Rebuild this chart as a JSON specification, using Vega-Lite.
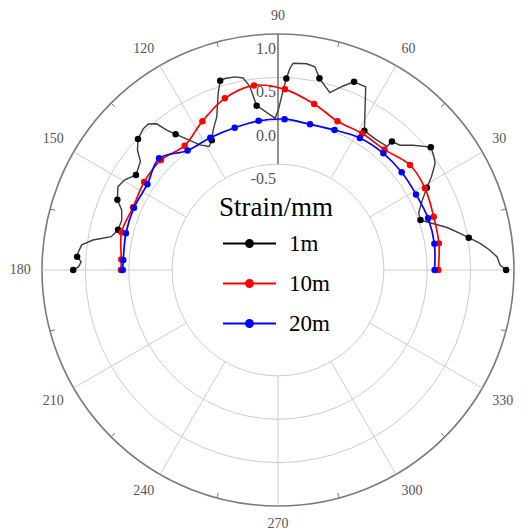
{
  "$schema": "https://vega.github.io/schema/vega-lite/v6.json",
  "width": 525,
  "height": 531,
  "autosize": {"type": "none"},
  "padding": 0,
  "background": "white",
  "config": {"view": {"stroke": null}},
  "datasets": {
    "series": [
      {"s":"1m","a":0,"v":0.91,"m":1},{"s":"1m","a":1.3,"v":0.84,"m":0},{"s":"1m","a":3.4,"v":0.81,"m":0},{"s":"1m","a":5.4,"v":0.73,"m":0},{"s":"1m","a":7.5,"v":0.63,"m":0},
      {"s":"1m","a":9.6,"v":0.51,"m":1},{"s":"1m","a":11.4,"v":0.42,"m":0},{"s":"1m","a":14.1,"v":0.29,"m":0},{"s":"1m","a":16.2,"v":0.17,"m":0},{"s":"1m","a":19.3,"v":0.02,"m":1},
      {"s":"1m","a":22.1,"v":0.03,"m":0},{"s":"1m","a":25.9,"v":0.13,"m":0},{"s":"1m","a":28.9,"v":0.24,"m":1},{"s":"1m","a":31.3,"v":0.35,"m":0},{"s":"1m","a":34.2,"v":0.47,"m":0},
      {"s":"1m","a":36.5,"v":0.51,"m":0},{"s":"1m","a":38.8,"v":0.54,"m":1},{"s":"1m","a":42.7,"v":0.40,"m":0},{"s":"1m","a":45.7,"v":0.29,"m":0},{"s":"1m","a":48.45,"v":0.26,"m":1},
      {"s":"1m","a":48.6,"v":0.18,"m":0},{"s":"1m","a":53.5,"v":0.16,"m":0},{"s":"1m","a":58.2,"v":0.17,"m":1},{"s":"1m","a":64.4,"v":0.62,"m":0},{"s":"1m","a":68.0,"v":0.62,"m":1},
      {"s":"1m","a":70.5,"v":0.53,"m":0},{"s":"1m","a":73.7,"v":0.41,"m":0},{"s":"1m","a":77.8,"v":0.54,"m":1},{"s":"1m","a":79.7,"v":0.66,"m":0},{"s":"1m","a":82.1,"v":0.68,"m":0},
      {"s":"1m","a":85.8,"v":0.67,"m":0},{"s":"1m","a":86.6,"v":0.61,"m":0},{"s":"1m","a":87.5,"v":0.49,"m":1},{"s":"1m","a":88.8,"v":0.28,"m":0},{"s":"1m","a":89.9,"v":0.12,"m":0},
      {"s":"1m","a":91.1,"v":0.03,"m":0},{"s":"1m","a":97.4,"v":0.19,"m":1},{"s":"1m","a":98.7,"v":0.42,"m":0},{"s":"1m","a":100.3,"v":0.53,"m":0},{"s":"1m","a":102.5,"v":0.56,"m":0},
      {"s":"1m","a":105.5,"v":0.57,"m":0},{"s":"1m","a":107.0,"v":0.56,"m":1},{"s":"1m","a":108.7,"v":0.43,"m":0},{"s":"1m","a":111.8,"v":0.18,"m":0},{"s":"1m","a":114.8,"v":0.06,"m":0},
      {"s":"1m","a":117.0,"v":-0.04,"m":1},{"s":"1m","a":119.1,"v":-0.09,"m":0},{"s":"1m","a":122.0,"v":-0.02,"m":0},{"s":"1m","a":127.0,"v":0.24,"m":1},{"s":"1m","a":128.5,"v":0.34,"m":0},
      {"s":"1m","a":129.7,"v":0.47,"m":0},{"s":"1m","a":131.6,"v":0.53,"m":0},{"s":"1m","a":133.6,"v":0.53,"m":0},{"s":"1m","a":136.9,"v":0.49,"m":1},{"s":"1m","a":139.5,"v":0.41,"m":0},
      {"s":"1m","a":141.7,"v":0.30,"m":0},{"s":"1m","a":146.2,"v":0.25,"m":1},{"s":"1m","a":149.5,"v":0.33,"m":0},{"s":"1m","a":152.5,"v":0.36,"m":0},{"s":"1m","a":156.4,"v":0.30,"m":1},
      {"s":"1m","a":159.0,"v":0.21,"m":0},{"s":"1m","a":162.3,"v":0.17,"m":0},{"s":"1m","a":165.9,"v":0.18,"m":1},{"s":"1m","a":168.7,"v":0.24,"m":0},{"s":"1m","a":170.8,"v":0.44,"m":0},
      {"s":"1m","a":172.7,"v":0.56,"m":0},{"s":"1m","a":174.8,"v":0.59,"m":0},{"s":"1m","a":176.2,"v":0.60,"m":1},{"s":"1m","a":177.6,"v":0.55,"m":0},{"s":"1m","a":179.1,"v":0.58,"m":0},
      {"s":"1m","a":180,"v":0.64,"m":1},
      {"s":"10m","a":0,"v":0.128,"m":1},{"s":"10m","a":9.4,"v":0.16,"m":1},{"s":"10m","a":18.9,"v":0.177,"m":1},{"s":"10m","a":29.1,"v":0.219,"m":1},{"s":"10m","a":38.5,"v":0.224,"m":1},
      {"s":"10m","a":48.5,"v":0.133,"m":1},{"s":"10m","a":58.3,"v":0.128,"m":1},{"s":"10m","a":68.2,"v":0.127,"m":1},{"s":"10m","a":77.7,"v":0.238,"m":1},{"s":"10m","a":87.8,"v":0.364,"m":1},
      {"s":"10m","a":97.4,"v":0.425,"m":1},{"s":"10m","a":107.2,"v":0.351,"m":1},{"s":"10m","a":116.9,"v":0.204,"m":1},{"s":"10m","a":126.9,"v":0.072,"m":1},{"s":"10m","a":136.8,"v":0.131,"m":1},
      {"s":"10m","a":146.7,"v":0.126,"m":1},{"s":"10m","a":156.6,"v":0.10,"m":1},{"s":"10m","a":166.4,"v":0.135,"m":1},{"s":"10m","a":176.2,"v":0.09,"m":1},{"s":"10m","a":180,"v":0.09,"m":1},
      {"s":"20m","a":0,"v":0.085,"m":1},{"s":"20m","a":9.5,"v":0.108,"m":1},{"s":"20m","a":19.0,"v":0.11,"m":1},{"s":"20m","a":28.7,"v":0.094,"m":1},{"s":"20m","a":38.3,"v":0.097,"m":1},
      {"s":"20m","a":47.9,"v":0.092,"m":1},{"s":"20m","a":58.2,"v":0.071,"m":1},{"s":"20m","a":68.0,"v":0.02,"m":1},{"s":"20m","a":77.6,"v":0.0,"m":1},{"s":"20m","a":87.5,"v":0.02,"m":1},
      {"s":"20m","a":97.4,"v":0.014,"m":1},{"s":"20m","a":106.9,"v":-0.006,"m":1},{"s":"20m","a":117.1,"v":-0.007,"m":1},{"s":"20m","a":127.1,"v":0.007,"m":1},{"s":"20m","a":136.8,"v":0.16,"m":1},
      {"s":"20m","a":146.7,"v":0.081,"m":1},{"s":"20m","a":156.6,"v":0.088,"m":1},{"s":"20m","a":166.4,"v":0.083,"m":1},{"s":"20m","a":176.3,"v":0.067,"m":1},{"s":"20m","a":180,"v":0.07,"m":1}
    ],
    "circles": [{"v":-0.5},{"v":0},{"v":0.5},{"v":1}],
    "spokes": [{"a":0},{"a":30},{"a":60},{"a":90},{"a":120},{"a":150},{"a":180},{"a":210},{"a":240},{"a":270},{"a":300},{"a":330}],
    "ticks": [{"a":15},{"a":45},{"a":75},{"a":105},{"a":135},{"a":165},{"a":195},{"a":225},{"a":255},{"a":285},{"a":315},{"a":345}],
    "rlabels": [{"v":1,"t":"1.0"},{"v":0.5,"t":"0.5"},{"v":0,"t":"0.0"},{"v":-0.5,"t":"-0.5"}]
  },
  "layer": [
    {
      "data": {"name": "circles"},
      "transform": [{"calculate": "datum.v + 1.72", "as": "r"}],
      "mark": {"type": "arc", "fill": "white", "fillOpacity": 0},
      "encoding": {
        "x": {"datum": 0, "type": "quantitative", "scale": {"type":"linear","domain":[-3.204,2.847],"nice":false,"zero":false}, "axis": null},
        "y": {"datum": 0, "type": "quantitative", "scale": {"type":"linear","domain":[-3.008,3.112],"nice":false,"zero":false}, "axis": null},
        "radius": {"field": "r", "type": "quantitative", "stack": null, "scale": {"type": "linear", "domain": [0, 2.72], "range": [0, 236], "zero": true}, "legend": null},
        "stroke": {"condition": {"test": "datum.v == 1", "value": "#7a7a7a"}, "value": "#cccccc"},
        "strokeWidth": {"condition": {"test": "datum.v == 1", "value": 1.6}, "value": 1}
      }
    },
    {
      "data": {"name": "spokes"},
      "transform": [
        {"calculate": "1.22 * cos(datum.a * PI / 180)", "as": "x1"},
        {"calculate": "1.22 * sin(datum.a * PI / 180)", "as": "y1"},
        {"calculate": "2.72 * cos(datum.a * PI / 180)", "as": "x2"},
        {"calculate": "2.72 * sin(datum.a * PI / 180)", "as": "y2"}
      ],
      "mark": {"type": "rule"},
      "encoding": {
        "x": {"field": "x1", "type": "quantitative", "scale": {"type":"linear","domain":[-3.204,2.847],"nice":false,"zero":false}, "axis": null},
        "y": {"field": "y1", "type": "quantitative", "scale": {"type":"linear","domain":[-3.008,3.112],"nice":false,"zero":false}, "axis": null},
        "x2": {"field": "x2"},
        "y2": {"field": "y2"},
        "stroke": {"condition": {"test": "datum.a == 90", "value": "#6e6e6e"}, "value": "#cccccc"},
        "strokeWidth": {"condition": {"test": "datum.a == 90", "value": 1.5}, "value": 1}
      }
    },
    {
      "data": {"name": "ticks"},
      "transform": [
        {"calculate": "2.66 * cos(datum.a * PI / 180)", "as": "x1"},
        {"calculate": "2.66 * sin(datum.a * PI / 180)", "as": "y1"},
        {"calculate": "2.72 * cos(datum.a * PI / 180)", "as": "x2"},
        {"calculate": "2.72 * sin(datum.a * PI / 180)", "as": "y2"}
      ],
      "mark": {"type": "rule", "stroke": "#7a7a7a", "strokeWidth": 1},
      "encoding": {
        "x": {"field": "x1", "type": "quantitative", "scale": {"type":"linear","domain":[-3.204,2.847],"nice":false,"zero":false}, "axis": null},
        "y": {"field": "y1", "type": "quantitative", "scale": {"type":"linear","domain":[-3.008,3.112],"nice":false,"zero":false}, "axis": null},
        "x2": {"field": "x2"},
        "y2": {"field": "y2"}
      }
    },
    {
      "data": {"name": "spokes"},
      "transform": [
        {"calculate": "cos(datum.a * PI / 180)", "as": "c"},
        {"calculate": "sin(datum.a * PI / 180)", "as": "sn"},
        {"calculate": "2.85 * datum.c", "as": "lx"},
        {"calculate": "2.85 * datum.sn", "as": "ly"}
      ],
      "mark": {
        "type": "text", "font": "Liberation Serif", "fontSize": 14, "color": "#555555",
        "align": {"expr": "datum.c > 0.3 ? 'left' : (datum.c < -0.3 ? 'right' : 'center')"},
        "baseline": {"expr": "datum.sn > 0.3 ? 'bottom' : (datum.sn < -0.3 ? 'top' : 'middle')"}
      },
      "encoding": {
        "x": {"field": "lx", "type": "quantitative", "scale": {"type":"linear","domain":[-3.204,2.847],"nice":false,"zero":false}, "axis": null},
        "y": {"field": "ly", "type": "quantitative", "scale": {"type":"linear","domain":[-3.008,3.112],"nice":false,"zero":false}, "axis": null},
        "text": {"field": "a", "type": "nominal"}
      }
    },
    {
      "data": {"name": "rlabels"},
      "transform": [{"calculate": "datum.v + 1.72", "as": "r"}],
      "mark": {"type": "text", "font": "Liberation Serif", "fontSize": 16, "color": "#555555", "align": "right", "baseline": "middle", "dx": -2, "dy": 15},
      "encoding": {
        "x": {"datum": 0, "type": "quantitative", "scale": {"type":"linear","domain":[-3.204,2.847],"nice":false,"zero":false}, "axis": null},
        "y": {"field": "r", "type": "quantitative", "scale": {"type":"linear","domain":[-3.008,3.112],"nice":false,"zero":false}, "axis": null},
        "text": {"field": "t", "type": "nominal"}
      }
    },
    {
      "data": {"name": "series"},
      "transform": [
        {"filter": "datum.s == '1m'"},
        {"calculate": "(datum.v + 1.72) * cos(datum.a * PI / 180)", "as": "px"},
        {"calculate": "(datum.v + 1.72) * sin(datum.a * PI / 180)", "as": "py"}
      ],
      "mark": {"type": "line", "stroke": "#3c3c3c", "strokeWidth": 1.4},
      "encoding": {
        "x": {"field": "px", "type": "quantitative", "scale": {"type":"linear","domain":[-3.204,2.847],"nice":false,"zero":false}, "axis": null},
        "y": {"field": "py", "type": "quantitative", "scale": {"type":"linear","domain":[-3.008,3.112],"nice":false,"zero":false}, "axis": null},
        "order": {"field": "a", "type": "quantitative"}
      }
    },
    {
      "data": {"name": "series"},
      "transform": [
        {"filter": "datum.s != '1m'"},
        {"calculate": "(datum.v + 1.72) * cos(datum.a * PI / 180)", "as": "px"},
        {"calculate": "(datum.v + 1.72) * sin(datum.a * PI / 180)", "as": "py"}
      ],
      "mark": {"type": "line", "interpolate": "catmull-rom", "strokeWidth": 1.7},
      "encoding": {
        "x": {"field": "px", "type": "quantitative", "scale": {"type":"linear","domain":[-3.204,2.847],"nice":false,"zero":false}, "axis": null},
        "y": {"field": "py", "type": "quantitative", "scale": {"type":"linear","domain":[-3.008,3.112],"nice":false,"zero":false}, "axis": null},
        "color": {"field": "s", "type": "nominal", "scale": {"domain": ["1m","10m","20m"], "range": ["#000000","#ff0000","#0000ff"]}},
        "order": {"field": "a", "type": "quantitative"}
      }
    },
    {
      "data": {"name": "series"},
      "transform": [
        {"filter": "datum.m == 1"},
        {"calculate": "(datum.v + 1.72) * cos(datum.a * PI / 180)", "as": "px"},
        {"calculate": "(datum.v + 1.72) * sin(datum.a * PI / 180)", "as": "py"}
      ],
      "mark": {"type": "point", "filled": true, "size": 42, "opacity": 1},
      "encoding": {
        "x": {"field": "px", "type": "quantitative", "scale": {"type":"linear","domain":[-3.204,2.847],"nice":false,"zero":false}, "axis": null},
        "y": {"field": "py", "type": "quantitative", "scale": {"type":"linear","domain":[-3.008,3.112],"nice":false,"zero":false}, "axis": null},
        "color": {
          "field": "s", "type": "nominal",
          "scale": {"domain": ["1m","10m","20m"], "range": ["#000000","#ff0000","#0000ff"]},
          "legend": {
            "orient": "none", "legendX": 219, "legendY": 195, "padding": 0,
            "title": "Strain/mm", "titleFont": "Liberation Serif", "titleFontSize": 27, "titleFontWeight": "normal", "titleColor": "#000000", "titleAnchor": "middle", "titlePadding": -6,
            "labelFont": "Liberation Serif", "labelFontSize": 23, "labelColor": "#000000", "labelOffset": 12,
            "symbolType": "M-1,0H1M-0.13,0A0.13,0.13,0,1,0,0.13,0A0.13,0.13,0,1,0,-0.13,0Z",
            "symbolSize": 2809, "symbolStrokeWidth": 2, "rowPadding": -10,
            "encode": {
              "symbols": {"update": {"fill": {"scale": "color", "field": "value"}, "stroke": {"scale": "color", "field": "value"}, "opacity": {"value": 1}}}
            }
          }
        }
      }
    }
  ]
}
